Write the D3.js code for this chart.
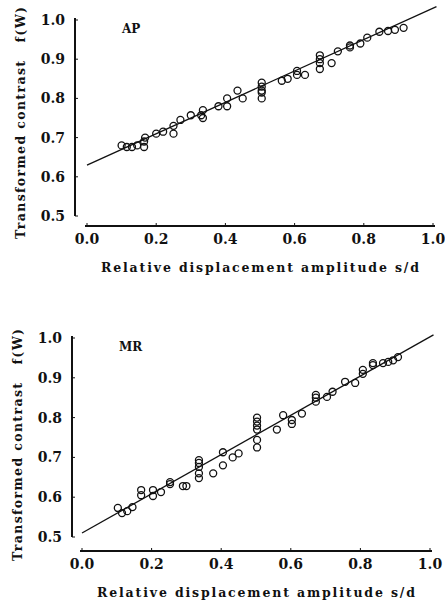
<!DOCTYPE html>
<html>
<head>
<meta charset="utf-8">
<script src="https://cdn.jsdelivr.net/npm/d3@7"></script>
<style>
  body { margin: 0; background: #fff; }
  text { font-family: "DejaVu Serif", "Liberation Serif", serif; font-weight: bold; fill: #111; }
</style>
</head>
<body>
<div id="chart"></div>
<script>
// data
var xTicks = [0.0, 0.2, 0.4, 0.6, 0.8, 1.0];
var yTicks = [0.5, 0.6, 0.7, 0.8, 0.9, 1.0];

var apX = [0.10, 0.115, 0.13, 0.145, 0.165, 0.165, 0.168, 0.20, 0.22, 0.25, 0.25, 0.27, 0.30, 0.33, 0.335, 0.335,
    0.38, 0.405, 0.405, 0.435, 0.45, 0.505, 0.505, 0.505, 0.505, 0.505, 0.563, 0.58, 0.607, 0.607, 0.63,
    0.673, 0.673, 0.673, 0.673, 0.707, 0.725, 0.76, 0.76, 0.79, 0.81, 0.845, 0.87, 0.89, 0.915];
var apY = [0.68, 0.676, 0.676, 0.68, 0.676, 0.69, 0.70, 0.71, 0.715, 0.73, 0.71, 0.745, 0.757, 0.757, 0.77, 0.75,
    0.78, 0.80, 0.78, 0.82, 0.80, 0.84, 0.83, 0.82, 0.815, 0.80, 0.845, 0.85, 0.87, 0.86, 0.86,
    0.91, 0.90, 0.89, 0.875, 0.89, 0.92, 0.935, 0.93, 0.94, 0.955, 0.97, 0.972, 0.975, 0.98];
var apFit = [0.63, 1.034];

var mrX = [0.103, 0.115, 0.13, 0.145, 0.17, 0.17, 0.204, 0.204, 0.227, 0.253, 0.253, 0.29, 0.30,
    0.336, 0.336, 0.336, 0.336, 0.336, 0.377, 0.405, 0.405, 0.433, 0.45,
    0.503, 0.503, 0.503, 0.503, 0.503, 0.503, 0.56, 0.578, 0.603, 0.603, 0.632,
    0.672, 0.672, 0.672, 0.704, 0.72, 0.756, 0.785, 0.807, 0.807, 0.836, 0.836, 0.865, 0.88, 0.894, 0.908];
var mrY = [0.573, 0.56, 0.565, 0.575, 0.618, 0.605, 0.618, 0.603, 0.613, 0.638, 0.633, 0.628, 0.628,
    0.693, 0.686, 0.676, 0.66, 0.648, 0.66, 0.68, 0.713, 0.70, 0.71,
    0.80, 0.79, 0.78, 0.77, 0.744, 0.725, 0.77, 0.806, 0.794, 0.784, 0.81,
    0.857, 0.85, 0.84, 0.852, 0.865, 0.89, 0.887, 0.92, 0.91, 0.937, 0.932, 0.937, 0.94, 0.944, 0.952];
var mrFit = [0.51, 1.008];

var svg = d3.select("#chart").append("svg")
    .attr("width", 445)
    .attr("height", 604);

// one panel of the figure
function drawPanel(name, xs, ys, fit, box) {
    var g = svg.append("g");

    var x = d3.scaleLinear().domain([0, 1]).range([box.x0, box.x1]);
    var y = d3.scaleLinear().domain([0.5, 1]).range([box.y0, box.y1]);

    // y axis: plain line with small inward ticks
    g.append("line")
        .attr("x1", box.ax).attr("x2", box.ax)
        .attr("y1", y(1) - 2).attr("y2", y(0.5))
        .attr("stroke", "#111").attr("stroke-width", 2);
    g.selectAll(".yt").data(yTicks).enter().append("line")
        .attr("x1", box.ax).attr("x2", box.ax + 3)
        .attr("y1", d => y(d)).attr("y2", d => y(d))
        .attr("stroke", "#111").attr("stroke-width", 1);
    g.selectAll(".yl").data(yTicks).enter().append("text")
        .attr("x", box.ax - 10)
        .attr("y", d => y(d) + 5)
        .attr("text-anchor", "end")
        .attr("font-size", "14px")
        .text(d => d.toFixed(1));

    // x axis sits a bit below the plot
    g.append("line")
        .attr("x1", x(0) - 2).attr("x2", x(1) + 2)
        .attr("y1", box.xa).attr("y2", box.xa)
        .attr("stroke", "#111").attr("stroke-width", 2);
    g.selectAll(".xt").data(xTicks).enter().append("line")
        .attr("x1", d => x(d)).attr("x2", d => x(d))
        .attr("y1", box.xa).attr("y2", box.xa - 3)
        .attr("stroke", "#111").attr("stroke-width", 1);
    g.selectAll(".xl").data(xTicks).enter().append("text")
        .attr("x", d => x(d))
        .attr("y", box.xa + 18)
        .attr("text-anchor", "middle")
        .attr("font-size", "14px")
        .text(d => d.toFixed(1));

    // fitted line
    g.append("line")
        .attr("x1", x(0)).attr("y1", y(fit[0]))
        .attr("x2", x(1.01)).attr("y2", y(fit[1]))
        .attr("stroke", "#111").attr("stroke-width", 1.3);

    // data points
    g.selectAll("circle").data(xs).enter().append("circle")
        .attr("cx", d => x(d))
        .attr("cy", (d, i) => y(ys[i]))
        .attr("r", 3.5)
        .attr("fill", "none")
        .attr("stroke", "#111")
        .attr("stroke-width", 1.3);

    // panel label
    g.append("text")
        .attr("x", box.ax + 47)
        .attr("y", y(1) + 13)
        .attr("font-size", "12px")
        .text(name);

    // axis titles
    g.append("text")
        .attr("x", (x(0) + x(1)) / 2)
        .attr("y", box.xa + 46)
        .attr("text-anchor", "middle")
        .attr("font-size", "12.5px")
        .attr("textLength", 318)
        .attr("lengthAdjust", "spacing")
        .text("Relative displacement amplitude s/d");

    g.append("text")
        .attr("transform", `translate(${box.ax - 50}, ${box.ty}) rotate(-90)`)
        .attr("text-anchor", "middle")
        .attr("font-size", "12.5px")
        .attr("textLength", 232)
        .attr("lengthAdjust", "spacing")
        .attr("xml:space", "preserve")
        .text("Transformed contrast   f(W)");
}

drawPanel("AP", apX, apY, apFit, { x0: 87, x1: 433, y0: 216, y1: 20, ax: 75, xa: 226, ty: 123 });
drawPanel("MR", mrX, mrY, mrFit, { x0: 82, x1: 430, y0: 537, y1: 338, ax: 72, xa: 551, ty: 445 });
</script>
</body>
</html>
